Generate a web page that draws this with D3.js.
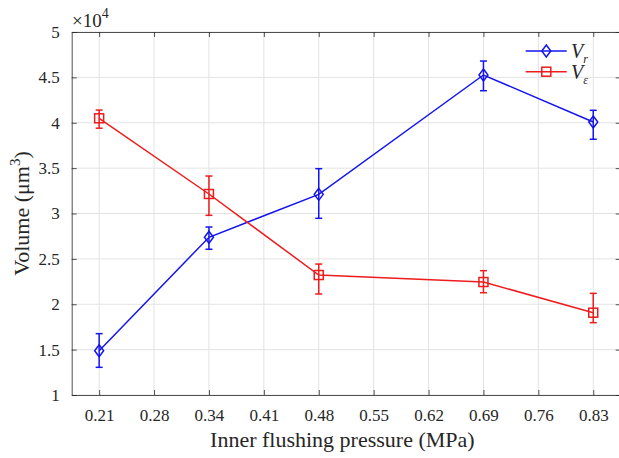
<!DOCTYPE html>
<html><head><meta charset="utf-8">
<script src="https://cdn.jsdelivr.net/npm/d3@7"></script>
<style>body{margin:0;background:#fff}svg{display:block}text{font-family:'Liberation Serif','Tinos','Times New Roman','DejaVu Serif',serif;fill:#262626}</style>
</head><body><svg id="c" width="619" height="458"></svg>
<script>
const xTickLabels = ["0.21","0.28","0.34","0.41","0.48","0.55","0.62","0.69","0.76","0.83"];
const pressures = ["0.21","0.34","0.48","0.69","0.83"];
const vr = [1.488, 2.738, 3.211, 4.526, 4.008];
const vrLow = [1.305, 2.606, 2.947, 4.353, 3.818];
const vrHigh = [1.676, 2.851, 3.494, 4.680, 4.137];
const ve = [4.049, 3.215, 2.322, 2.245, 1.907];
const veLow = [3.940, 2.980, 2.113, 2.127, 1.797];
const veHigh = [4.140, 3.413, 2.443, 2.370, 2.120];
const yTicks = [1,1.5,2,2.5,3,3.5,4,4.5,5];

const FONT = "'Liberation Serif','Tinos','Times New Roman','DejaVu Serif',serif";
const svg = d3.select("#c");
const L=71.7, R=620.7, T=32, B=395;
const x = d3.scaleLinear().domain([-0.5, 9.5]).range([L,R]);
const y = d3.scaleLinear().domain([1,5]).range([B,T]);
const px = p => x(xTickLabels.indexOf(p));
const axisCol = "#262626";

// grid
const g = svg.append("g");
g.selectAll("line.vg").data(xTickLabels).enter().append("line")
 .attr("x1",(d,i)=>x(i)).attr("x2",(d,i)=>x(i)).attr("y1",T).attr("y2",B)
 .attr("stroke","#e3e3e3").attr("stroke-width",1);
g.selectAll("line.hg").data(yTicks).enter().append("line")
 .attr("y1",d=>y(d)).attr("y2",d=>y(d)).attr("x1",L).attr("x2",R)
 .attr("stroke","#e3e3e3").attr("stroke-width",1);

// axes
const xb = d3.axisBottom(x).tickValues(d3.range(10)).tickFormat(i=>xTickLabels[i]).tickSizeInner(-5).tickSizeOuter(0).tickPadding(14);
const xt = d3.axisTop(x).tickValues(d3.range(10)).tickFormat("").tickSizeInner(-5).tickSizeOuter(0);
const yl = d3.axisLeft(y).tickValues(yTicks).tickFormat(d3.format("")).tickSizeInner(-5).tickSizeOuter(0).tickPadding(12);
const yr = d3.axisRight(y).tickValues(yTicks).tickFormat("").tickSizeInner(-5).tickSizeOuter(0);
function style(sel){sel.attr("font-family",FONT).attr("font-size",17);sel.selectAll("path,line").attr("stroke",axisCol).attr("stroke-width",0.8);sel.selectAll("text").attr("fill",axisCol).style("font-size","17px").style("font-family",FONT);}
svg.append("g").attr("transform",`translate(0,${B})`).call(xb).call(style);
svg.append("g").attr("transform",`translate(0,${T})`).call(xt).call(style);
svg.append("g").attr("transform",`translate(${L},0)`).call(yl).call(style);
svg.append("g").attr("transform",`translate(${R},0)`).call(yr).call(style);

// exponent
const ex = svg.append("text").attr("x",72).attr("y",27).style("font-size","19px").style("font-family",FONT);
ex.append("tspan").text("\u00d710");
ex.append("tspan").attr("dy",-9).style("font-size","14px").text("4");

// titles
svg.append("text").attr("x",(L+613)/2).attr("y",447).attr("text-anchor","middle").style("font-size","22px").style("font-family",FONT).text("Inner flushing pressure (MPa)");
const yt = svg.append("text").attr("transform",`translate(29,${(T+B)/2}) rotate(-90)`).attr("text-anchor","middle").style("font-size","22px").style("font-family",FONT);
yt.append("tspan").text("Volume (\u03bcm");
yt.append("tspan").attr("dy",-9).style("font-size","15px").text("3");
yt.append("tspan").attr("dy",9).text(")");

const blue="#1414f0", red="#ee1c1c";
function series(vals,lo,hi,col,marker){
  const line=d3.line().x((d,i)=>px(pressures[i])).y(d=>y(d));
  svg.append("path").datum(vals).attr("d",line).attr("fill","none").attr("stroke",col).attr("stroke-width",1.5);
  const eg=svg.append("g").attr("stroke",col).attr("stroke-width",1.5).attr("fill","none");
  pressures.forEach((p,i)=>{
    const cx=px(p);
    eg.append("line").attr("x1",cx).attr("x2",cx).attr("y1",y(lo[i])).attr("y2",y(hi[i]));
    eg.append("line").attr("x1",cx-3.5).attr("x2",cx+3.5).attr("y1",y(lo[i])).attr("y2",y(lo[i]));
    eg.append("line").attr("x1",cx-3.5).attr("x2",cx+3.5).attr("y1",y(hi[i])).attr("y2",y(hi[i]));
    drawMarker(eg,cx,y(vals[i]),marker);
  });
}
function drawMarker(sel,cx,cy,m){
  if(m==="d") sel.append("path").attr("d",`M${cx},${cy-6}L${cx+4.5},${cy}L${cx},${cy+6}L${cx-4.5},${cy}Z`).attr("fill","none");
  else sel.append("rect").attr("x",cx-4.5).attr("y",cy-4.5).attr("width",9).attr("height",9).attr("fill","none");
}
series(vr,vrLow,vrHigh,blue,"d");
series(ve,veLow,veHigh,red,"s");

// legend
const leg=[{c:blue,m:"d",s:"r",y:51},{c:red,m:"s",s:"\u03b5",y:71.7}];
leg.forEach(o=>{
  const lg=svg.append("g").attr("stroke",o.c).attr("stroke-width",1.5).attr("fill","none");
  lg.append("line").attr("x1",525.7).attr("x2",566.7).attr("y1",o.y).attr("y2",o.y);
  drawMarker(lg,546.3,o.y,o.m);
  const t=svg.append("text").attr("x",571).attr("y",o.y+7).style("font-size","20px").style("font-style","italic").style("font-family",FONT);
  t.append("tspan").text("V");
  t.append("tspan").attr("dy",5).style("font-size","12px").text(o.s);
});
</script></body></html>
